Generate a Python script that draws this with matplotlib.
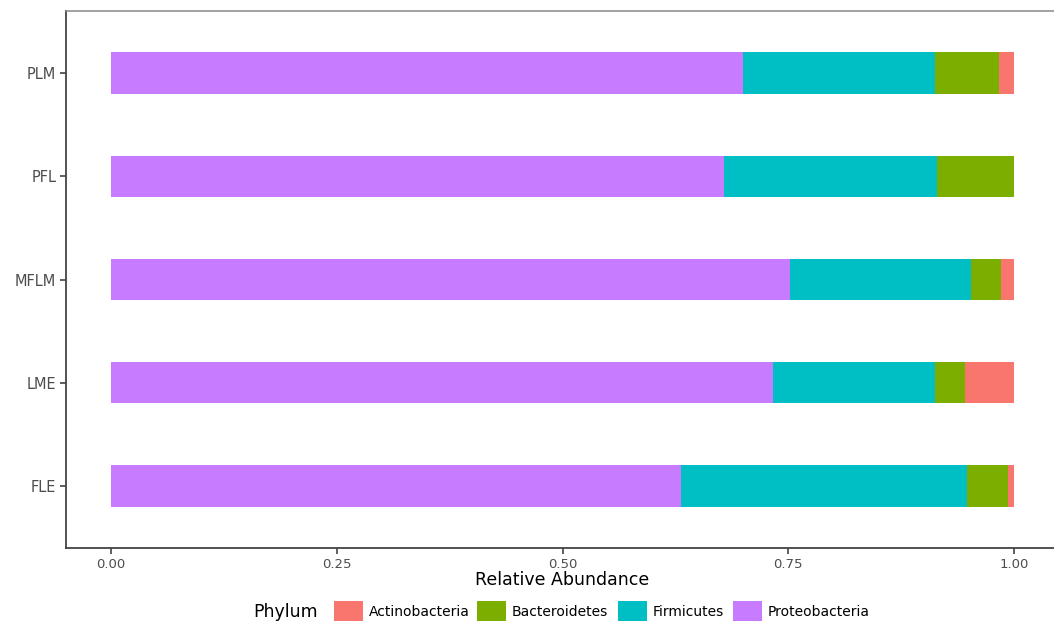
import matplotlib
matplotlib.use('Agg')
from matplotlib import pyplot as plt
from matplotlib.patches import Rectangle

samples = ['FLE', 'LME', 'MFLM', 'PFL', 'PLM']
# relative abundance per phylum, same order as samples
proteobacteria = [0.631, 0.733, 0.7525, 0.6785, 0.700]
firmicutes = [0.317, 0.1795, 0.1995, 0.2365, 0.2125]
bacteroidetes = [0.045, 0.0332, 0.0336, 0.085, 0.0712]
actinobacteria = [0.007, 0.0543, 0.0144, 0.0, 0.0163]

phyla = ['Actinobacteria', 'Bacteroidetes', 'Firmicutes', 'Proteobacteria']
colors = {'Actinobacteria': '#F8766D', 'Bacteroidetes': '#7CAE00',
          'Firmicutes': '#00BFC4', 'Proteobacteria': '#C77CFF'}

plt.rcParams['font.family'] = ['DejaVu Sans']

fig = plt.figure(figsize=(10.54, 6.21), dpi=100)
W, H = 1054, 621
ax = fig.add_axes([66 / W, 1 - 548 / H, (1059 - 66) / W, (548 - 11) / H])

# stack from left: Proteobacteria, Firmicutes, Bacteroidetes, Actinobacteria
ypos = list(range(len(samples)))
left = [0.0] * len(samples)
for name, vals in [('Proteobacteria', proteobacteria), ('Firmicutes', firmicutes),
                   ('Bacteroidetes', bacteroidetes), ('Actinobacteria', actinobacteria)]:
    ax.barh(ypos, vals, left=left, height=0.4, color=colors[name], linewidth=0)
    left = [l + v for l, v in zip(left, vals)]

ax.set_xlim(-0.05, 1.05)
ax.set_ylim(-0.6, len(samples) - 0.4)
ax.set_xticks([0, 0.25, 0.5, 0.75, 1.0])
ax.set_xticklabels(['0.00', '0.25', '0.50', '0.75', '1.00'])
ax.set_yticks(ypos)
ax.set_yticklabels(samples)
ax.tick_params(axis='both', colors='#333333', labelcolor='#4D4D4D',
               length=4, width=1.1, pad=3)
ax.tick_params(axis='x', labelsize=9.5)
ax.tick_params(axis='y', labelsize=10.5)
ax.set_xlabel('Relative Abundance', fontsize=12.5, color='black', labelpad=0)

for side in ['left', 'bottom']:
    ax.spines[side].set_color('#444444')
    ax.spines[side].set_linewidth(1.3)
ax.spines['top'].set_color('#888888')
ax.spines['top'].set_linewidth(1.1)
ax.spines['right'].set_visible(False)

# legend along the bottom, title on the left
ky = 1 - 630 / H
fig.text(253 / W, 1 - 612 / H, 'Phylum', fontsize=12.5, va='center', ha='left')
key_left = [334, 477, 618, 733]
for name, kx in zip(phyla, key_left):
    fig.patches.append(Rectangle((kx / W, ky), 29 / W, 29 / H, transform=fig.transFigure,
                                 facecolor=colors[name], edgecolor='none'))
    fig.text((kx + 35) / W, 1 - 612 / H, name, fontsize=10, va='center', ha='left')

fig.savefig('out.png', dpi=100)
